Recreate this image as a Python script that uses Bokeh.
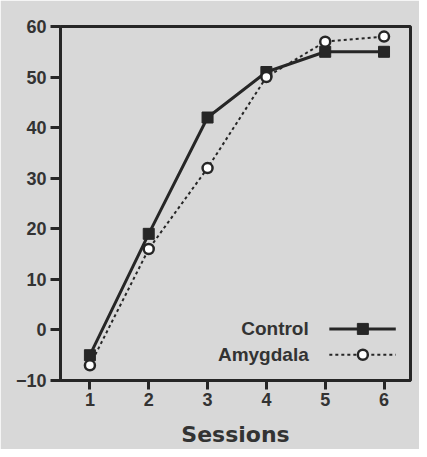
from bokeh.plotting import figure
from bokeh.models import Range1d, FixedTicker, Label
from bokeh.embed import file_html
from bokeh.resources import INLINE

sessions = [1, 2, 3, 4, 5, 6]
control = [-5, 19, 42, 51, 55, 55]
amygdala = [-7, 16, 32, 50, 57, 58]
y_ticks = [-10, 0, 10, 20, 30, 40, 50, 60]
series_names = ["Control", "Amygdala"]

# legend sample placement (data units)
leg_x = [5.07, 6.2]
leg_mid = 5.64
leg_y = [0.2, -4.9]
leg_text_x = 4.72

BG = "#d8d8d8"
INK = "#262626"
TXT = "#333333"

p = figure(width=419, height=449, output_backend="svg", toolbar_location=None,
           x_range=Range1d(0.5, 6.45), y_range=Range1d(-10, 60))
p.background_fill_color = BG
p.border_fill_color = BG
p.min_border_left = 60
p.min_border_right = 9
p.min_border_top = 26
p.min_border_bottom = 68
p.outline_line_color = INK
p.outline_line_width = 3
p.grid.visible = False

for ax in (p.xaxis[0], p.yaxis[0]):
    ax.axis_line_color = INK
    ax.axis_line_width = 3
    ax.major_tick_line_color = INK
    ax.major_tick_line_width = 3
    ax.major_tick_in = 0
    ax.major_tick_out = 9
    ax.minor_tick_line_color = None
    ax.major_label_text_font = "Liberation Sans"
    ax.major_label_text_font_style = "bold"
    ax.major_label_text_font_size = "18px"
    ax.major_label_text_color = TXT

p.xaxis.ticker = FixedTicker(ticks=sessions)
p.yaxis.ticker = FixedTicker(ticks=y_ticks)
p.yaxis.major_tick_out = 10
p.xaxis.major_label_standoff = 3
p.yaxis.major_label_standoff = 4
p.xaxis.axis_label = "Sessions"
p.xaxis.axis_label_text_font = "DejaVu Sans"
p.xaxis.axis_label_text_font_style = "bold"
p.xaxis.axis_label_text_font_size = "22px"
p.xaxis.axis_label_text_color = TXT
p.xaxis.axis_label_standoff = 13

# data series
p.line(sessions, amygdala, line_color=INK, line_width=2, line_dash="3 3")
p.line(sessions, control, line_color=INK, line_width=3)
p.scatter(sessions, control, marker="square", size=11, fill_color=INK, line_color=INK)
p.scatter(sessions, amygdala, marker="circle", size=10, fill_color="white",
          line_color=INK, line_width=2.5)

# custom legend (label on left, sample on right)
p.line(leg_x, [leg_y[0]] * 2, line_color=INK, line_width=3)
p.scatter([leg_mid], [leg_y[0]], marker="square", size=11, fill_color=INK, line_color=INK)
p.line(leg_x, [leg_y[1]] * 2, line_color=INK, line_width=2, line_dash="3 3")
p.scatter([leg_mid], [leg_y[1]], marker="circle", size=10, fill_color="white",
          line_color=INK, line_width=2.5)
for name, yy in zip(series_names, leg_y):
    p.add_layout(Label(x=leg_text_x, y=yy, text=name, text_align="right",
                       text_baseline="middle", text_font="Liberation Sans",
                       text_font_style="bold", text_font_size="19px", text_color=TXT))

open("out.html", "w").write(file_html(p, INLINE))
